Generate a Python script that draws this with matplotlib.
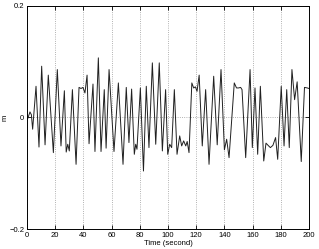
import matplotlib
matplotlib.use("Agg")
import matplotlib.pyplot as plt

# time (s) and displacement (m)
t = [0.0, 0.5, 2.1, 3.1, 4.0, 6.4, 8.5, 10.4, 12.8, 15.1, 18.7, 21.5, 24.1, 26.5,
     27.8, 28.9, 30.0, 32.2, 34.8, 36.9, 38.3, 39.7, 41.1, 42.6, 44.0, 46.8, 48.2,
     50.6, 52.5, 54.8, 56.1, 58.2, 61.7, 64.8, 68.1, 70.4, 72.3, 74.2, 76.1, 77.1,
     78.0, 80.4, 82.6, 84.6, 86.5, 88.9, 91.3, 93.8, 96.0, 98.3, 99.8, 101.2, 102.6,
     104.5, 106.4, 108.3, 109.7, 111.1, 112.6, 113.6, 114.9, 116.9, 118.2, 119.4,
     120.6, 122.1, 124.3, 126.7, 129.1, 132.4, 134.9, 137.6, 140.0, 141.6, 143.3,
     147.0, 148.6, 150.0, 151.5, 152.5, 155.1, 158.2, 159.8, 161.7, 163.6, 165.5,
     167.9, 169.5, 171.0, 172.6, 174.4, 176.3, 177.8, 180.3, 182.3, 184.2, 186.0,
     187.9, 189.8, 191.6, 194.5, 196.8, 198.8, 200.0]
m = [0.000, -0.002, 0.010, 0.005, -0.021, 0.056, -0.053, 0.092, -0.049, 0.076,
     -0.063, 0.086, -0.051, 0.048, -0.062, -0.048, -0.060, 0.050, -0.084, 0.054,
     0.052, 0.054, 0.044, 0.076, -0.047, 0.060, -0.061, 0.107, -0.061, 0.050,
     -0.055, 0.086, -0.061, 0.062, -0.084, 0.054, -0.045, 0.051, -0.066, -0.048,
     -0.057, 0.053, -0.096, 0.056, -0.054, 0.098, -0.048, 0.098, -0.060, 0.050,
     -0.066, -0.048, -0.054, 0.050, -0.066, -0.033, -0.051, -0.042, -0.051,
     -0.043, -0.063, 0.062, 0.053, 0.055, 0.047, 0.076, -0.051, 0.050, -0.084,
     0.074, -0.049, 0.086, -0.058, -0.039, -0.072, 0.062, 0.053, 0.053, 0.054,
     0.050, -0.072, 0.086, -0.054, 0.053, -0.066, 0.056, -0.078, -0.046, -0.050,
     -0.054, -0.050, -0.036, -0.075, 0.056, -0.051, 0.050, -0.054, 0.086, 0.032,
     0.064, -0.079, 0.054, 0.053, 0.052]

xticks = [0, 20, 40, 60, 80, 100, 120, 140, 160, 180, 200]
yticks = [-0.2, 0, 0.2]
yticklabels = ["\u22120.2", "0", "0.2"]

plt.rcParams['font.family'] = ['Liberation Sans', 'DejaVu Sans']
fig = plt.figure(figsize=(3.19, 2.49), dpi=100)
ax = fig.add_axes([27/319, 1 - 229/249, 282/319, 223/249])
ax.plot(t, m, color='#202020', lw=0.7)
ax.set_xlim(0, 200)
ax.set_ylim(-0.2, 0.2)
ax.set_xticks(xticks)
ax.set_xticklabels([str(v) for v in xticks])
ax.set_yticks(yticks)
ax.set_yticklabels(yticklabels)
ax.grid(True, linestyle=':', color='#999999', lw=0.6)
ax.tick_params(direction='in', length=3, width=0.6, labelsize=5.5,
               top=True, right=True, pad=2)
for s in ax.spines.values():
    s.set_linewidth(0.7)
ax.set_xlabel("Time (second)", fontsize=5.5, labelpad=1)
ax.set_ylabel("m", fontsize=5.5)
ax.yaxis.set_label_coords(-0.066, 0.5)
fig.savefig("out.png", dpi=100)
